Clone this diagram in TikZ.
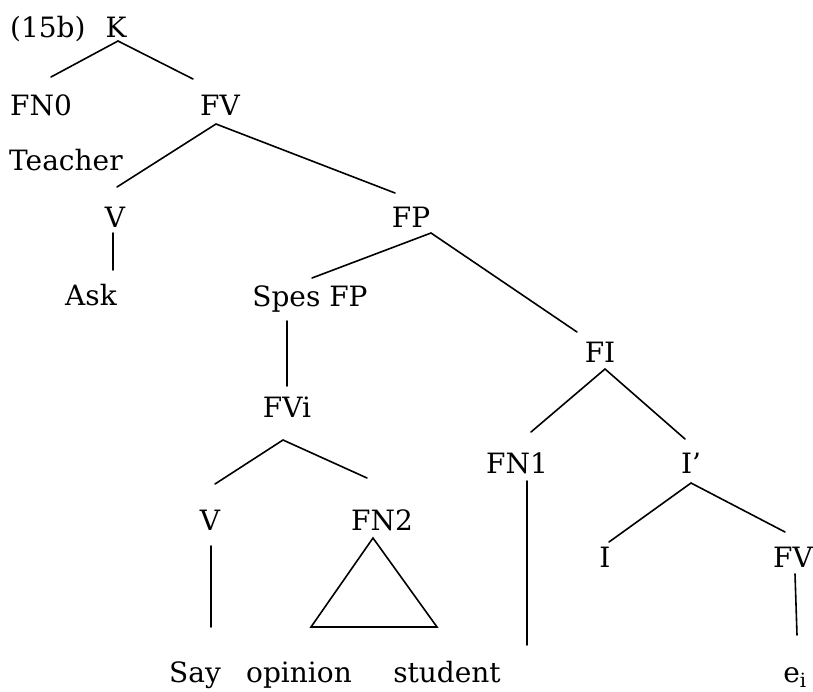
\documentclass[tikz,border=0pt]{standalone}
\usepackage{fontspec}
\setmainfont{DejaVu Serif}
\begin{document}
\begin{tikzpicture}[x=1pt,y=-1pt,
  lab/.style={inner sep=0pt,anchor=base,font=\fontsize{28}{33}\selectfont},
  labl/.style={lab,anchor=base west},
  edge/.style={line width=1.6pt,line cap=round}]
\path[use as bounding box] (0,0) rectangle (813,691);
% labels
\node[labl] (ex) at (10,37) {(15b)};
\node[lab] (K) at (116,37) {K};
\node[labl] (FNz) at (10,115) {FN0};
\node[lab] (FVa) at (220,115) {FV};
\node[labl] (Teacher) at (9,170) {Teacher};
\node[lab] (Va) at (115,227) {V};
\node[lab] (FP) at (411,227) {FP};
\node[lab] (Ask) at (91,305) {Ask};
\node[lab] (Spes) at (310,306) {Spes FP};
\node[lab] (FI) at (600,362) {FI};
\node[lab] (FVi) at (287,417) {FVi};
\node[lab] (FNa) at (517,473) {FN1};
\node[lab] (Ibar) at (691,473) {I’};
\node[lab] (Vb) at (210,530) {V};
\node[lab] (FNb) at (382,530) {FN2};
\node[lab] (I) at (605,567) {I};
\node[lab] (FVb) at (793,567) {FV};
\node[lab] (Say) at (195,682) {Say};
\node[lab] (opinion) at (299,682) {opinion};
\node[lab] (student) at (447,682) {student};
\node[lab] (ei) at (795,682) {e\textsubscript{i}};
% connector end points
\coordinate (Kd) at (118,41);
\coordinate (FNzu) at (51,77);
\coordinate (FVau) at (193,79);
\coordinate (FVad) at (216,124);
\coordinate (Vau) at (117,187);
\coordinate (FPu) at (395,193);
\coordinate (Vad) at (113,233);
\coordinate (Asku) at (113,270);
\coordinate (FPd) at (431,233);
\coordinate (Spesu) at (312,278);
\coordinate (FIu) at (577,332);
\coordinate (Spesd) at (287,321);
\coordinate (FViu) at (287,386);
\coordinate (FVid) at (283,440);
\coordinate (Vbu) at (215,484);
\coordinate (FNbu) at (367,478);
\coordinate (Vbd) at (211,546);
\coordinate (Sayu) at (211,627);
\coordinate (tA) at (373,538);
\coordinate (tL) at (311,627);
\coordinate (tR) at (437,627);
\coordinate (FId) at (605,369);
\coordinate (FNau) at (531,432);
\coordinate (Ibaru) at (685,439);
\coordinate (FNad) at (527,481);
\coordinate (studentu) at (527,645);
\coordinate (Ibard) at (691,483);
\coordinate (Iu) at (609,542);
\coordinate (FVbu) at (785,532);
\coordinate (FVbd) at (795,574);
\coordinate (eiu) at (797,635);
% connectors
\draw[edge] (FNzu) -- (Kd) -- (FVau);
\draw[edge] (Vau) -- (FVad) -- (FPu);
\draw[edge] (Vad) -- (Asku);
\draw[edge] (Spesu) -- (FPd) -- (FIu);
\draw[edge] (Spesd) -- (FViu);
\draw[edge] (Vbu) -- (FVid) -- (FNbu);
\draw[edge] (Vbd) -- (Sayu);
\draw[edge,line join=miter] (tA) -- (tL) -- (tR) -- cycle;
\draw[edge] (FNau) -- (FId) -- (Ibaru);
\draw[edge] (FNad) -- (studentu);
\draw[edge] (Iu) -- (Ibard) -- (FVbu);
\draw[edge] (FVbd) -- (eiu);
\end{tikzpicture}
\end{document}
